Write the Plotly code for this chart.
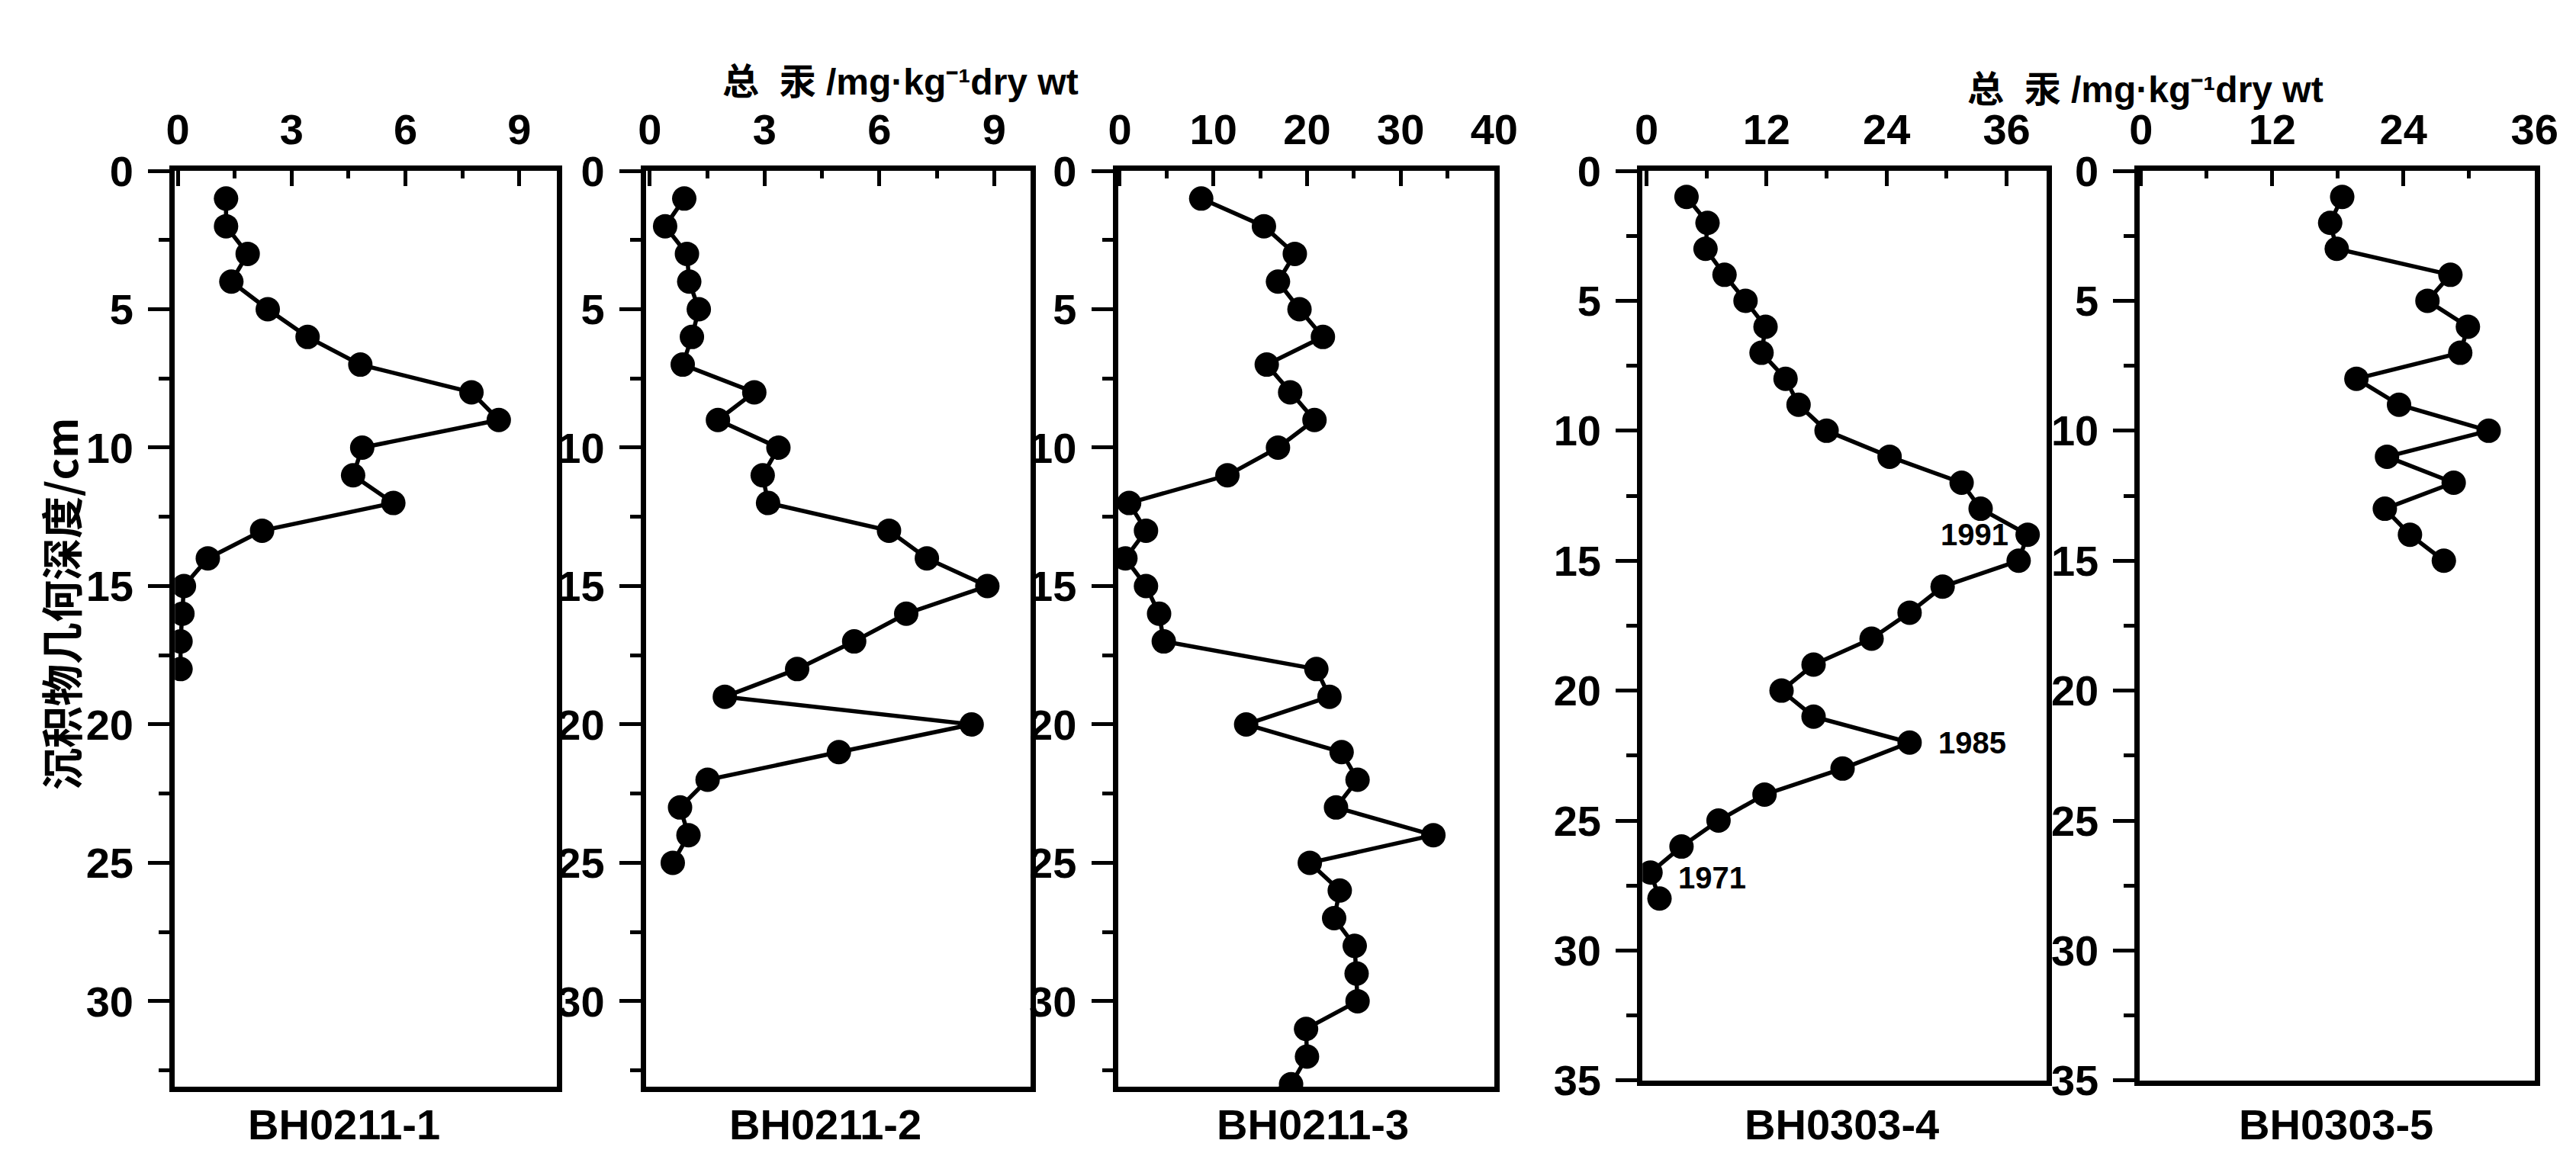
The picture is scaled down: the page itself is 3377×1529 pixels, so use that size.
import plotly.graph_objects as go

# ---------------- data (depth in cm, total Hg in mg/kg dry wt) ----------------
cores = ["BH0211-1", "BH0211-2", "BH0211-3", "BH0303-4", "BH0303-5"]

depth_1 = list(range(1, 19))
hg_1 = [1.27, 1.27, 1.84, 1.41, 2.37, 3.42, 4.81, 7.74, 8.46, 4.86, 4.62, 5.68,
        2.22, 0.79, 0.16, 0.12, 0.07, 0.07]

depth_2 = list(range(1, 26))
hg_2 = [0.90, 0.40, 0.97, 1.03, 1.28, 1.10, 0.86, 2.73, 1.78, 3.36, 2.95, 3.09,
        6.25, 7.24, 8.82, 6.70, 5.34, 3.85, 1.96, 8.41, 4.94, 1.51, 0.79, 1.01, 0.60]

depth_3 = list(range(1, 35))
hg_3 = [8.7, 15.4, 18.7, 16.9, 19.2, 21.7, 15.7, 18.2, 20.8, 16.9, 11.5, 1.0,
        2.8, 0.6, 2.8, 4.2, 4.7, 21.0, 22.4, 13.5, 23.7, 25.4, 23.1, 33.5,
        20.3, 23.5, 22.9, 25.1, 25.3, 25.4, 19.9, 20.0, 18.3, 10.0]

depth_4 = list(range(1, 29))
hg_4 = [4.0, 6.1, 5.9, 7.8, 9.9, 11.9, 11.5, 13.9, 15.2, 18.0, 24.3, 31.5,
        33.4, 38.1, 37.2, 29.6, 26.3, 22.5, 16.7, 13.5, 16.7, 26.3, 19.6, 11.8,
        7.2, 3.5, 0.4, 1.3]

depth_5 = list(range(1, 16))
hg_5 = [18.4, 17.3, 17.9, 28.3, 26.2, 29.9, 29.2, 19.7, 23.6, 31.8, 22.5, 28.6,
        22.3, 24.6, 27.7]

# dating marks on BH0303-4
year_labels = ["1991", "1985", "1971"]
year_depth = [14, 22, 27.2]
year_hg = [36.3, 29.0, 3.0]
year_anchor = ["right", "left", "left"]

x_tick_step = [3, 3, 10, 12, 12]
y_max = [33.1, 33.1, 33.1, 35, 35]
x_ranges = [[-0.08, 10.0], [-0.1, 9.95], [-0.2, 40], [-0.4, 40], [-0.1, 36.05]]

depths = [depth_1, depth_2, depth_3, depth_4, depth_5]
values = [hg_1, hg_2, hg_3, hg_4, hg_5]

# ---------------- layout geometry (pixels) ----------------
W, H = 3377, 1529
px_left = [210, 836, 1463, 2160, 2821]
px_right = [718, 1347, 1963, 2697, 3346]
px_top = 193
px_bottom = [1446, 1446, 1446, 1437, 1437]
label_cx = [435, 1074, 1722, 2425, 3082]

FONT = "Liberation Sans, Arial, Noto Sans CJK SC, sans-serif"
CJK = "Noto Sans CJK SC, Liberation Sans, sans-serif"

fig = go.Figure()
layout = dict(
    width=W, height=H, autosize=False,
    margin=dict(l=0, r=0, t=0, b=0),
    paper_bgcolor="white", plot_bgcolor="white",
    showlegend=False,
    font=dict(family=FONT, size=56, color="black", weight="bold"),
)

for i in range(5):
    n = "" if i == 0 else str(i + 1)
    xa, ya = "x" + n, "y" + n
    fig.add_trace(go.Scatter(
        x=values[i], y=depths[i], xaxis=xa, yaxis=ya, mode="lines+markers",
        line=dict(color="black", width=5.5),
        marker=dict(color="black", size=32, symbol="circle"),
    ))
    layout["xaxis" + n] = dict(
        domain=[px_left[i] / W, px_right[i] / W],
        anchor=ya, side="top", range=x_ranges[i],
        dtick=x_tick_step[i], tick0=0,
        ticks="inside", ticklen=20, tickwidth=5, tickcolor="black",
        minor=dict(ticks="inside", dtick=x_tick_step[i] / 2, tick0=0,
                   ticklen=10, tickwidth=5, tickcolor="black"),
        showline=True, linewidth=7, linecolor="black", mirror=True,
        showgrid=False, zeroline=False,
        tickfont=dict(family=FONT, size=56, color="black", weight="bold"),
        ticklabelstandoff=6,
    )
    layout["yaxis" + n] = dict(
        domain=[1 - px_bottom[i] / H, 1 - px_top / H],
        anchor=xa, range=[y_max[i], 0],
        dtick=5, tick0=0,
        ticks="outside", ticklen=28, tickwidth=5, tickcolor="black",
        minor=dict(ticks="outside", dtick=2.5, tick0=0,
                   ticklen=14, tickwidth=5, tickcolor="black"),
        showline=True, linewidth=7, linecolor="black", mirror=True,
        showgrid=False, zeroline=False,
        tickfont=dict(family=FONT, size=56, color="black", weight="bold"),
        ticklabelstandoff=8,
    )

annotations = []
# core names below each panel
for i in range(5):
    annotations.append(dict(
        text=cores[i], xref="paper", yref="paper",
        x=label_cx[i] / W, y=1 - 1497 / H, xanchor="center", yanchor="middle",
        showarrow=False, font=dict(family=FONT, size=56, color="black", weight="bold"),
    ))
# x-axis titles
title_text = "总  汞 /mg·kg⁻¹dry wt"
for cx, cy in [(1174, 71), (2828, 82)]:
    annotations.append(dict(
        text=title_text, xref="paper", yref="paper",
        x=cx / W, y=1 - cy / H, xanchor="center", yanchor="middle",
        showarrow=False, font=dict(family=FONT, size=48, color="black", weight="bold"),
    ))
# y-axis title
annotations.append(dict(
    text="沉积物几何深度/cm", xref="paper", yref="paper",
    x=56 / W, y=1 - 785 / H, xanchor="center", yanchor="middle", textangle=-90,
    showarrow=False, font=dict(family=CJK, size=55, color="black", weight="bold"),
))
# dating labels
for t, d, v, a in zip(year_labels, year_depth, year_hg, year_anchor):
    annotations.append(dict(
        text=t, xref="x4", yref="y4", x=v, y=d, xanchor=a, yanchor="middle",
        showarrow=False, font=dict(family=FONT, size=40, color="black", weight="bold"),
    ))

layout["annotations"] = annotations
fig.update_layout(**layout)
fig.write_html("out.html")
